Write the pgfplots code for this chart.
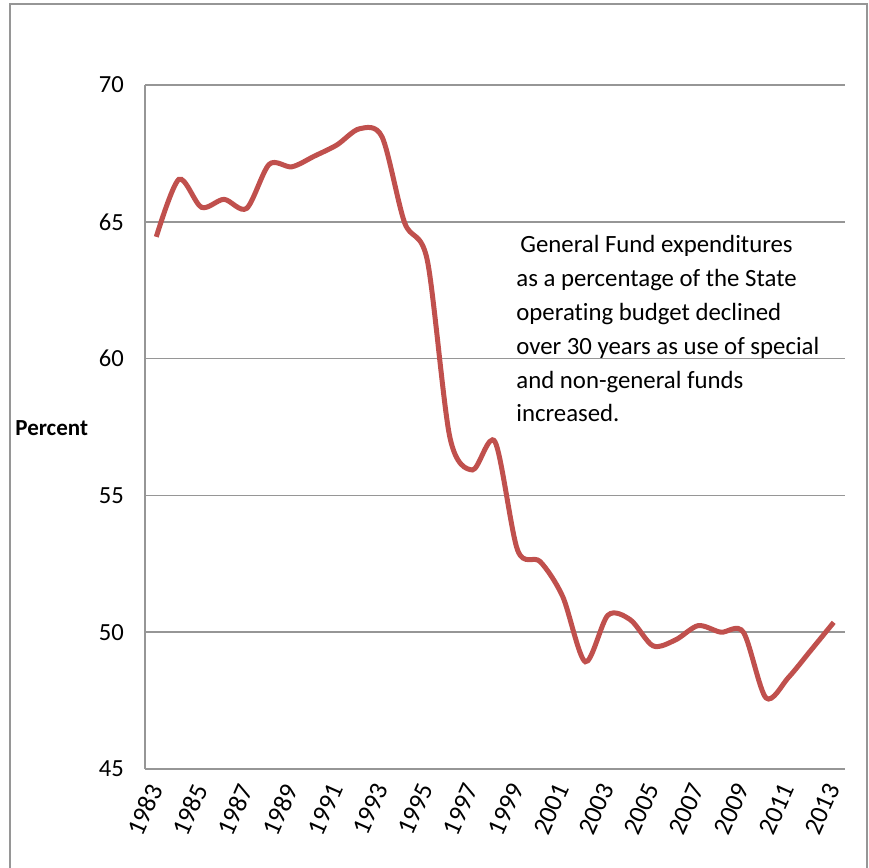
\documentclass[border=0pt]{standalone}
\usepackage{pgfplots}
\pgfplotsset{compat=1.18}
\usepackage{fontspec}
\setmainfont{Carlito}[Ligatures=NoCommon]
\definecolor{linered}{RGB}{192,80,77}
\definecolor{gridgray}{RGB}{150,150,150}
\begin{document}
\begin{tikzpicture}
\useasboundingbox (0pt,0pt) rectangle (434.5pt,434pt);
\draw[gridgray, line width=0.8pt] (5pt,-5pt) -- (5pt,432pt) -- (433.5pt,432pt) -- (433.5pt,-5pt);
\begin{axis}[
  at={(72.5pt,49.5pt)}, anchor=south west, scale only axis,
  width=350pt, height=342pt,
  xmin=1982.5, xmax=2013.5, ymin=45, ymax=70,
  xtick={1983,1985,...,2013}, ytick={45,50,...,70},
  axis x line=bottom, axis y line=left,
  axis line style={-, gridgray, line width=0.8pt},
  ymajorgrids, grid style={gridgray, line width=0.8pt},
  major tick length=0pt,
  /pgf/number format/assume math mode=true,
  /pgf/number format/1000 sep={},
  tick label style={font=\fontsize{12.3}{14}\selectfont, text=black},
  x tick label style={font=\fontsize{13}{15}\selectfont, yshift=-5pt, xshift=1pt, rotate=66, anchor=east},
  y tick label style={xshift=-7pt},
]
\addplot[linered, line width=2.5pt, smooth] coordinates {
(1983,64.45) (1984,66.55) (1985,65.53) (1986,65.82) (1987,65.49)
(1988,67.1) (1989,67.01) (1990,67.4) (1991,67.81) (1992,68.4)
(1993,68.1) (1994,64.96) (1995,63.6) (1996,57.13) (1997,55.93)
(1998,56.96) (1999,53.0) (2000,52.58) (2001,51.3) (2002,48.92)
(2003,50.62) (2004,50.45) (2005,49.5) (2006,49.72) (2007,50.24)
(2008,50.0) (2009,50.0) (2010,47.6) (2011,48.35) (2012,49.35)
(2013,50.36)
};
\end{axis}
\begin{scope}[every node/.style={anchor=base west, inner sep=0pt, font=\fontsize{12.4}{15}\selectfont}]
\node at (260pt,307.5pt) {General Fund expenditures};
\node at (258pt,290.5pt) {as a percentage of the State};
\node at (258pt,273.5pt) {operating budget declined};
\node at (258pt,256.5pt) {over 30 years as use of special};
\node at (258pt,239.5pt) {and non-general funds};
\node at (258pt,223pt) {increased.};
\end{scope}
\node[anchor=west, inner sep=0pt, font=\bfseries\fontsize{11.5}{14}\selectfont] at (7.5pt,220pt) {Percent};
\end{tikzpicture}
\end{document}
